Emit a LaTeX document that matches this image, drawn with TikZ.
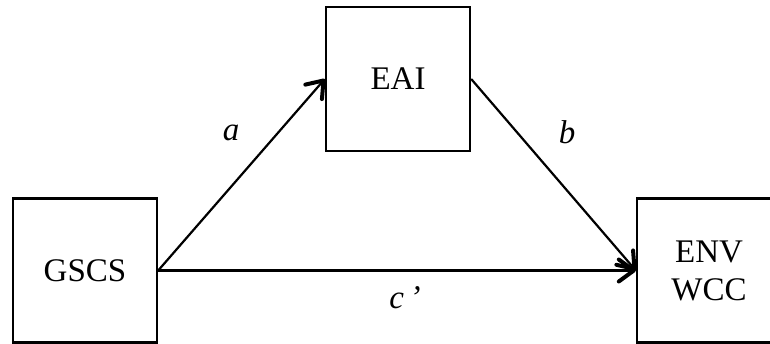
\documentclass[tikz,border=0pt]{standalone}
\usepackage{fontspec}
\setmainfont{Liberation Serif}
\usetikzlibrary{positioning, arrows.meta}

\begin{document}
\begin{tikzpicture}[
    x=0.5pt, y=0.5pt,
    varbox/.style={
        rectangle, draw=black, line width=1.2pt,
        minimum width=72pt, minimum height=72pt,
        font=\fontsize{16.5}{19}\selectfont, align=center,
        inner sep=2pt,
    },
    path/.style={-{Straight Barb[length=7.5pt, width=11pt, line width=2pt, round]},
        line width=1.1pt, draw=black},
    coef/.style={font=\fontsize{16.5}{19}\selectfont\itshape},
]

% --- Frame, right box runs off the edge ---
\clip (0,0) rectangle (770,343);

% --- Variables ---
\node[varbox] (gscs) at (85,72.5) {GSCS};
\node[varbox] (eai)  at (398,264) {EAI};
\node[varbox] (env)  at (709,72.5) {ENV\\WCC};

% --- Paths ---
\draw[path] (gscs.east) -- (eai.west);
\draw[path] (eai.east)  -- (env.west);
\draw[path] (gscs.east) -- (env.west);

% --- Coefficients ---
\node[coef] (pa) at (231,210) {a};
\node[coef] (pb) at (567,211) {b};
\node[coef] (pc) at (405,45)  {c\,’};

\end{tikzpicture}
\end{document}
